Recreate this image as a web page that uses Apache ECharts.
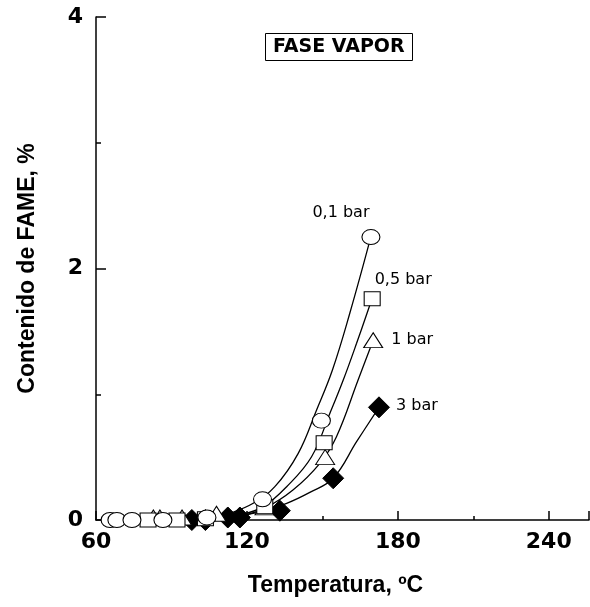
<!DOCTYPE html>
<html>
<head>
<meta charset="utf-8">
<script src="https://cdn.jsdelivr.net/npm/echarts@6/dist/echarts.min.js"></script>
<style>html,body{margin:0;padding:0;background:#fff;}#c{width:590px;height:607px;}</style>
</head>
<body>
<div id="c"></div>
<script>
// Measured points (temperature ºC, FAME %)
var circX = [65.6, 68.3, 74.3, 86.6, 104.1, 126.2, 149.6, 169.3];
var circY = [0, 0, 0, 0, 0.02, 0.165, 0.79, 2.25];
var sqX = [80.7, 92.2, 103.5, 127.1, 150.7, 169.8];
var sqY = [0, 0, 0.01, 0.106, 0.615, 1.76];
var triX = [82.8, 85.4, 94.2, 107.9, 127.0, 151.1, 170.2];
var triY = [0.02, 0.02, 0.02, 0.05, 0.1, 0.5, 1.43];
var diaX = [98.1, 103.5, 112.4, 117.2, 133.1, 154.3, 172.5];
var diaY = [0, 0, 0.02, 0.02, 0.074, 0.332, 0.896];

// Fitted curves
var c01X = [100, 106, 113.2, 122.5, 131.1, 140.4, 147.7, 154.0, 160.9, 169.3];
var c01Y = [0, 0.015, 0.053, 0.133, 0.265, 0.53, 0.875, 1.193, 1.644, 2.253];
var c05X = [100, 108, 117.2, 126.5, 135.8, 145.7, 153.0, 158.3, 163.6, 169.8];
var c05Y = [0, 0.015, 0.04, 0.106, 0.265, 0.503, 0.849, 1.113, 1.405, 1.763];
var c1X = [100, 108, 117.2, 127.1, 138.3, 149.0, 155.6, 164.2, 170.2];
var c1Y = [0, 0.01, 0.03, 0.095, 0.239, 0.451, 0.662, 1.113, 1.43];
var c3X = [100, 113.2, 125.2, 135.8, 145.0, 154.3, 163.6, 172.5];
var c3Y = [0, 0.024, 0.064, 0.133, 0.22, 0.332, 0.623, 0.896];

var seriesNames = ['0,1 bar', '0,5 bar', '1 bar', '3 bar'];
var xTicks = [60, 120, 180, 240];
var yTicks = [0, 2, 4];

var arial = 'Liberation Sans, Arial, sans-serif';
var wide = 'DejaVu Sans, sans-serif';

function pairs(xs, ys) { return xs.map(function (x, i) { return [x, ys[i]]; }); }
function withLabel(xs, ys, text, offset) {
  var d = pairs(xs, ys);
  var last = d.length - 1;
  d[last] = {
    value: d[last],
    label: {
      show: true, formatter: text, position: 'inside', offset: offset,
      color: '#000', fontSize: 16, fontFamily: wide
    }
  };
  return d;
}
function curve(xs, ys) {
  return {
    type: 'line', data: pairs(xs, ys), smooth: 0.4, symbol: 'none', silent: true,
    lineStyle: { color: '#000', width: 1.3 }, z: 2
  };
}
function marks(d, symbol, size, fill, z) {
  return {
    type: 'scatter', data: d, symbol: symbol, symbolSize: size, z: z,
    itemStyle: { color: fill, borderColor: '#000', borderWidth: 1, opacity: 1 }
  };
}

var chart = echarts.init(document.getElementById('c'), null, { renderer: 'canvas' });
chart.setOption({
  animation: false,
  backgroundColor: '#fff',
  title: {
    text: 'FASE VAPOR', left: 265, top: 33,
    padding: [5, 8, 4, 8], borderColor: '#000', borderWidth: 1,
    textStyle: { fontSize: 19, fontWeight: 'bold', color: '#000', fontFamily: wide }
  },
  grid: { left: 96, right: 1, top: 17, bottom: 87, containLabel: false },
  xAxis: {
    type: 'value', min: 60, max: 256, interval: 60,
    name: 'Temperatura, ºC', nameLocation: 'middle', nameGap: 54,
    nameTextStyle: { fontSize: 23, fontWeight: 'bold', color: '#000', fontFamily: arial, padding: [0, 14, 0, 0] },
    axisLine: { lineStyle: { color: '#000', width: 1.5 } },
    axisTick: { inside: true, length: 9, lineStyle: { color: '#000', width: 1.5 } },
    minorTick: { show: true, splitNumber: 2, length: 4, lineStyle: { color: '#000', width: 1.5 } },
    splitLine: { show: false },
    axisLabel: {
      margin: 11, fontSize: 22, fontWeight: 'bold', color: '#000', fontFamily: wide, showMaxLabel: false,
      formatter: function (v) { return xTicks.indexOf(v) >= 0 ? String(v) : ''; }
    }
  },
  yAxis: {
    type: 'value', min: 0, max: 4, interval: 2,
    name: 'Contenido de FAME, %', nameLocation: 'middle', nameGap: 57,
    nameTextStyle: { fontSize: 23, fontWeight: 'bold', color: '#000', fontFamily: arial },
    axisLine: { lineStyle: { color: '#000', width: 1.5 } },
    axisTick: { inside: true, length: 10, lineStyle: { color: '#000', width: 1.5 } },
    minorTick: { show: true, splitNumber: 2, length: 5, lineStyle: { color: '#000', width: 1.5 } },
    splitLine: { show: false },
    axisLabel: {
      margin: 13, fontSize: 22, fontWeight: 'bold', color: '#000', fontFamily: wide,
      formatter: function (v) { return yTicks.indexOf(v) >= 0 ? String(v) : ''; }
    }
  },
  series: [
    curve(c01X, c01Y), curve(c05X, c05Y), curve(c1X, c1Y), curve(c3X, c3Y),
    marks(withLabel(diaX, diaY, seriesNames[3], [38, -1]), 'diamond', [21, 21], '#000', 3),
    marks(withLabel(triX, triY, seriesNames[2], [39, 0]), 'triangle', [19, 15], '#fff', 4),
    marks(withLabel(sqX, sqY, seriesNames[1], [31, -19]), 'rect', [16, 14], '#fff', 5),
    marks(withLabel(circX, circY, seriesNames[0], [-30, -24]), 'circle', [18, 15], '#fff', 6)
  ]
});
</script>
</body>
</html>
